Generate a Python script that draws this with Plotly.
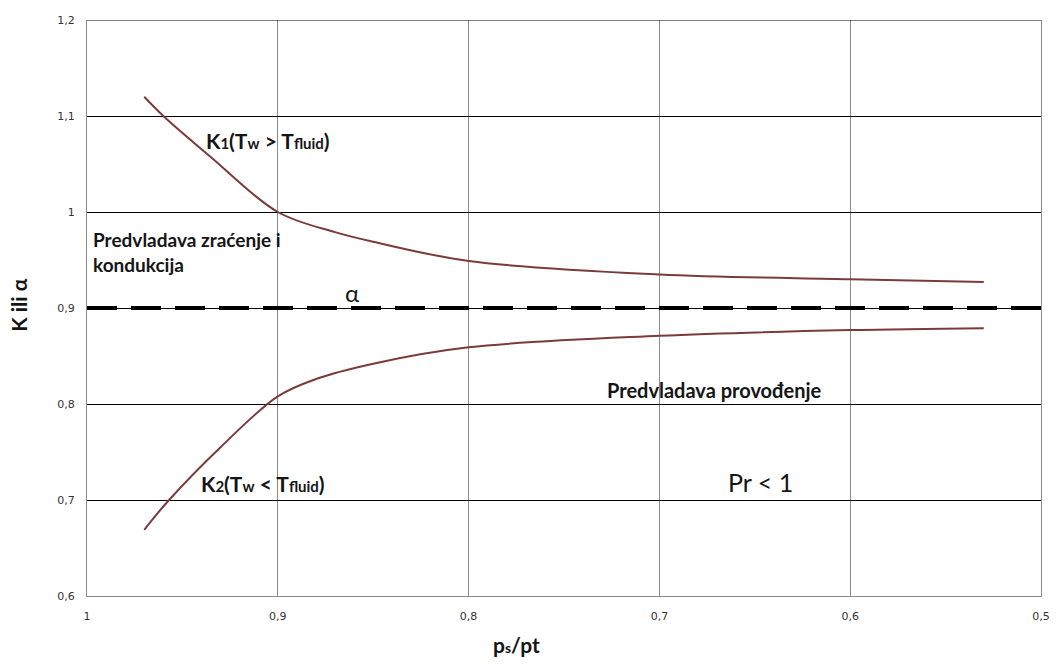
import plotly.graph_objects as go

# Pressure ratio ps/pt (axis runs from 1 down to 0.5)
k1_x = [0.97, 0.96, 0.935, 0.9, 0.87, 0.85, 0.8, 0.7, 0.6, 0.53]
k1_y = [1.12, 1.10, 1.057, 1.0, 0.979, 0.969, 0.949, 0.935, 0.930, 0.927]

k2_x = [0.97, 0.957, 0.93, 0.9, 0.88, 0.85, 0.8, 0.7, 0.6, 0.53]
k2_y = [0.669, 0.70, 0.755, 0.808, 0.826, 0.842, 0.859, 0.871, 0.877, 0.879]

alpha_x = [1.0, 0.5]
alpha_y = [0.9, 0.9]

x_ticks = [1.0, 0.9, 0.8, 0.7, 0.6, 0.5]
x_tick_text = ["1", "0,9", "0,8", "0,7", "0,6", "0,5"]
y_ticks = [0.6, 0.7, 0.8, 0.9, 1.0, 1.1, 1.2]
y_tick_text = ["0,6", "0,7", "0,8", "0,9", "1", "1,1", "1,2"]

curve_color = "#7a3b3b"
ink = "#151515"

fig = go.Figure()
fig.add_trace(go.Scatter(x=alpha_x, y=alpha_y, mode="lines",
                         line=dict(color="black", width=4, dash="30px,14px"),
                         hoverinfo="skip"))
fig.add_trace(go.Scatter(x=k1_x, y=k1_y, mode="lines",
                         line=dict(color=curve_color, width=2, shape="spline", smoothing=1.0)))
fig.add_trace(go.Scatter(x=k2_x, y=k2_y, mode="lines",
                         line=dict(color=curve_color, width=2, shape="spline", smoothing=1.0)))


def k_label(idx, sign):
    sub = "<span style='font-size:15px'>{}</span>"
    return ("<b>K" + sub.format(idx) + "(T" + sub.format("w") + " " + sign
            + " T" + sub.format("fluid") + ")</b>")


annotations = [
    dict(x=0.905, y=1.075, text=k_label("1", "&gt;"), font=dict(family="Lato", size=21, color=ink)),
    dict(x=0.9075, y=0.7177, text=k_label("2", "&lt;"), font=dict(family="Lato", size=21, color=ink)),
    dict(x=0.998, y=0.958, xanchor="left", align="left",
         text="<b>Predvladava zraćenje i<br>kondukcija</b>",
         font=dict(family="Lato", size=19, color=ink)),
    dict(x=0.861, y=0.916, text="α", font=dict(family="Lato", size=24, color=ink)),
    dict(x=0.671, y=0.8146, text="<b>Predvladava provođenje</b>",
         font=dict(family="Lato", size=20, color=ink)),
    dict(x=0.647, y=0.719, text="Pr &lt; 1", font=dict(family="Lato", size=25, color=ink)),
    dict(x=0.775, y=-0.085, yref="paper", yanchor="middle",
         text="<b>p<span style='font-size:14px'>s</span>/pt</b>",
         font=dict(family="Lato", size=21, color=ink)),
    dict(x=-0.0717, y=0.903, xref="paper", yref="y", xanchor="center", yanchor="middle",
         text="<b>K ili α</b>", textangle=-90,
         font=dict(family="Lato", size=21, color=ink)),
]
for a in annotations:
    a.setdefault("xref", "x")
    a.setdefault("yref", "y")
    a["showarrow"] = False

fig.update_layout(
    width=1062, height=664,
    margin=dict(l=87, r=13, t=20, b=68),
    paper_bgcolor="white", plot_bgcolor="white",
    showlegend=False,
    annotations=annotations,
    shapes=[dict(type="line", xref="paper", yref="y", x0=0, x1=1, y0=1.2, y1=1.2,
                 line=dict(color="black", width=1))],
    xaxis=dict(range=[1.0, 0.5], tickvals=x_ticks, ticktext=x_tick_text,
               showgrid=True, gridcolor="#8c8c8c", gridwidth=1,
               showline=True, linecolor="#8c8c8c", linewidth=1, mirror=False,
               zeroline=False, ticks="outside", ticklen=10, tickcolor="rgba(0,0,0,0)",
               tickfont=dict(family="DejaVu Sans", size=11, color="#333333")),
    yaxis=dict(range=[0.6, 1.2], tickvals=y_ticks, ticktext=y_tick_text,
               showgrid=True, gridcolor="black", gridwidth=1,
               showline=True, linecolor="#8c8c8c", linewidth=1, mirror=True,
               zeroline=False, ticks="outside", ticklen=9, tickcolor="rgba(0,0,0,0)",
               tickfont=dict(family="DejaVu Sans", size=11, color="#333333")),
)

fig.write_html("out.html")
